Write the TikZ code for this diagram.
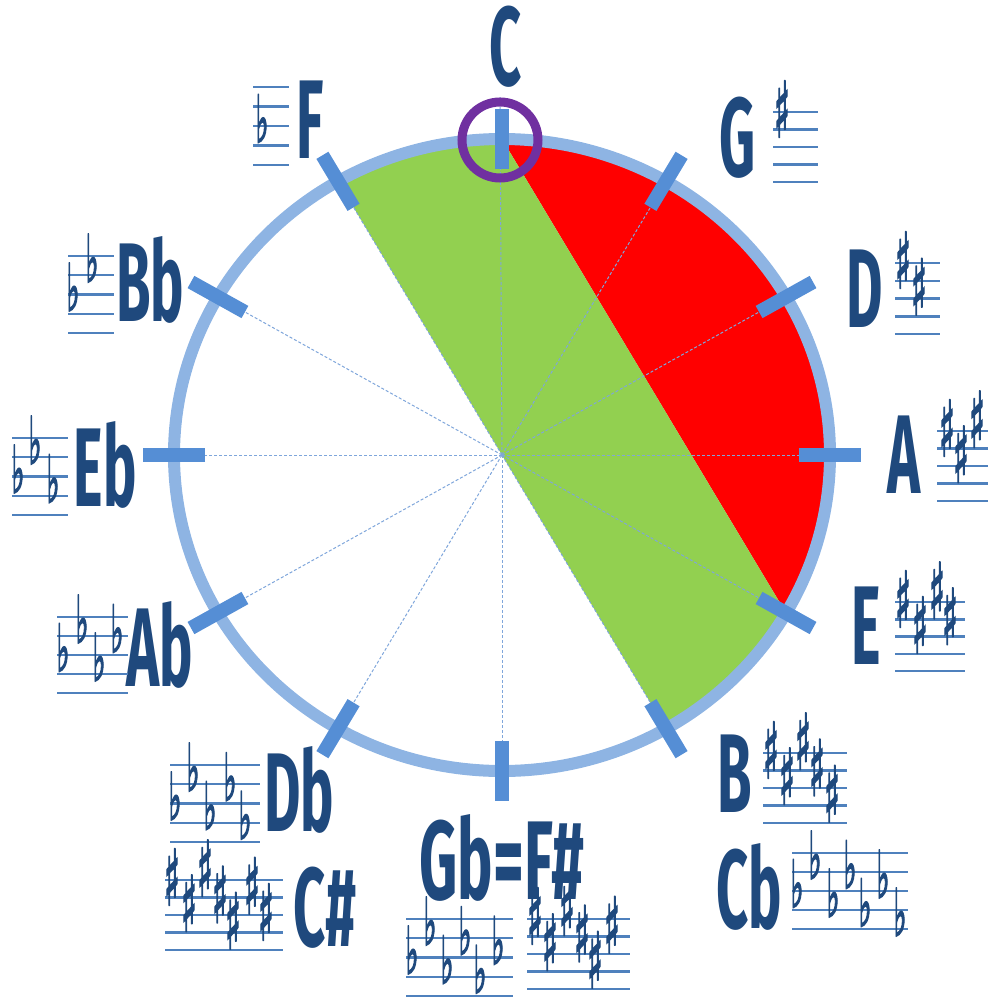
\documentclass[tikz,border=0pt]{standalone}
\usepackage{fontspec}
\usepackage{graphicx}
\setmainfont{Fira Sans}
\newfontfamily\accfont{DejaVu Sans}[FakeBold=3]
\usetikzlibrary{calc}
\definecolor{lettc}{HTML}{1F497D}
\definecolor{stafc}{HTML}{4F81BD}
\definecolor{ringc}{HTML}{8EB4E3}
\definecolor{tickc}{HTML}{558ED5}
\definecolor{spokec}{HTML}{7FA6DB}
\definecolor{greenc}{HTML}{92D050}
\definecolor{redc}{HTML}{FF0000}
\definecolor{purplec}{HTML}{7030A0}
\newcommand\flatglyph{{\accfont\resizebox*{6.5pt}{24pt}{♭}}}
\newcommand\sharpglyph{{\accfont\resizebox*{8pt}{28pt}{♯}}}
\newcommand\keystaff[4]{%
  \foreach \kk in {0,...,4} {\draw[stafflinestyle] (#1,{#3+\kk*#4}) -- (#2,{#3+\kk*#4});}}
\newcommand\keyflats[4]{%
  \foreach \xx/\pp [count=\ii] in {#4} {\node[flatsym] (#1-\ii) at (\xx,{#2+(\pp)*#3/2+17}) {\flatglyph};}}
\newcommand\keysharps[4]{%
  \foreach \xx/\pp [count=\ii] in {#4} {\node[sharpsym] (#1-\ii) at (\xx,{#2+(\pp)*#3/2-3}) {\sharpglyph};}}
\begin{document}
\begin{tikzpicture}[x=0.5pt,y=-0.5pt,
  ring/.style={draw=ringc,line width=6pt},
  tickbar/.style={draw=tickc,line width=7pt},
  spoke/.style={draw=spokec,line width=0.5pt,dash pattern=on 1.5pt off 1pt},
  keyname/.style={text=lettc,font=\fontsize{56}{56}\selectfont\bfseries,inner sep=0pt},
  stafflinestyle/.style={draw=stafc,line width=1.2pt},
  flatsym/.style={text=lettc,inner sep=0pt,anchor=south},
  sharpsym/.style={text=lettc,inner sep=0pt,anchor=center},
]
\useasboundingbox (0,0) rectangle (988,997);
\coordinate (O) at (502,455);
\foreach \n/\a in {C/0,G/30,D/60,A/90,E/120,B/150,Gb/180,Db/210,Ab/240,Eb/270,Bb/300,F/330} {
  \coordinate (p\n) at ({502+328*sin(\a)},{455-316*cos(\a)});
}
% sectors
\fill[redc] plot[domain=0:120,samples=90] ({502+328*sin(\x)},{455-316*cos(\x)}) -- cycle;
\fill[greenc] plot[domain=-30:0,samples=30] ({502+328*sin(\x)},{455-316*cos(\x)})
  -- plot[domain=120:150,samples=30] ({502+328*sin(\x)},{455-316*cos(\x)}) -- cycle;
% spokes
\foreach \n in {G,D,A,E,B,Gb,Db,Ab,Eb,Bb,F} {
  \draw[spoke] (O) -- ($(O)!1.09!(p\n)$);
}
\coordinate (ctop) at (500,97);
\draw[spoke] (O) -- (ctop);
% ring
\draw[ring] (O) ellipse [x radius=164pt, y radius=158pt];
% ticks
\foreach \n in {C,G,D,A,E,B,Gb,Db,Ab,Eb,Bb,F} {
  \draw[tickbar] ($(O)!0.905!(p\n)$) -- ($(O)!1.095!(p\n)$);
}
% purple marker
\coordinate (cmark) at (500,140);
\draw[draw=purplec,line width=4.5pt] (cmark) circle [radius=19pt];
% key names
\node[keyname] (lC) at (506,47) {\scalebox{0.5}[1]{C}};
\node[keyname] (lG) at (738,138) {\scalebox{0.5}[1]{G}};
\node[keyname] (lD) at (865,289) {\scalebox{0.5}[1]{D}};
\node[keyname] (lA) at (904,455) {\scalebox{0.5}[1]{A}};
\node[keyname] (lE) at (866,626) {\scalebox{0.5}[1]{E}};
\node[keyname] (lB) at (735,774) {\scalebox{0.5}[1]{B}};
\node[keyname] (lCb) at (749,887) {\scalebox{0.5}[1]{Cb}};
\node[keyname] (lGb) at (502,858) {\scalebox{0.53}[1]{Gb=F\#}};
\node[keyname] (lDb) at (299,790) {\scalebox{0.5}[1]{Db}};
\node[keyname] (lCs) at (325,908) {\scalebox{0.5}[1]{C\#}};
\node[keyname] (lAb) at (160,645) {\scalebox{0.5}[1]{Ab}};
\node[keyname] (lEb) at (105,465) {\scalebox{0.5}[1]{Eb}};
\node[keyname] (lBb) at (150,280) {\scalebox{0.5}[1]{Bb}};
\node[keyname] (lF) at (310,120) {\scalebox{0.5}[1]{F}};
% flat key signatures
\keystaff{253}{289}{87}{19.5}
\keyflats{fF}{87}{19.5}{262/4}
\keystaff{68}{114}{256}{19.25}
\keyflats{fBb}{256}{19.25}{73/4,92/1}
\keystaff{12}{68}{438}{19.25}
\keyflats{fEb}{438}{19.25}{18/4,35/1,53/5}
\keystaff{57}{128}{617}{19}
\keyflats{fAb}{617}{19}{63/4,82/1,99/5,117/2}
\keystaff{170}{260}{765}{19.25}
\keyflats{fDb}{765}{19.25}{175/4,193/1,210/5,230/2,245/6}
\keystaff{406}{513}{919}{19.25}
\keyflats{fGb}{919}{19.25}{412/4,430/1,447/5,465/2,480/6,498/3}
\keystaff{792}{908}{853}{19}
\keyflats{fCb}{853}{19}{797/4,815/1,833/5,850/2,865/6,883/3,900/7}
% sharp key signatures
\keystaff{773}{818}{112}{17.5}
\keysharps{sG}{112}{17.5}{782/0}
\keystaff{895}{940}{263}{17.8}
\keysharps{sD}{263}{17.8}{903/0,919/3}
\keystaff{937}{988}{431}{17.5}
\keysharps{sA}{431}{17.5}{947/0,961/3,977/-1}
\keystaff{895}{965}{602}{17.3}
\keysharps{sE}{602}{17.3}{903/0,920/3,937/-1,950/2}
\keystaff{763}{847}{753}{17.5}
\keysharps{sB}{753}{17.5}{771/0,787/3,803/-1,817/2,832/5}
\keystaff{527}{630}{919}{17.5}
\keysharps{sFs}{919}{17.5}{535/0,550/3,567/-1,582/2,595/5,612/1}
\keystaff{165}{283}{880}{17.5}
\keysharps{sCs}{880}{17.5}{172/0,189/3,205/-1,220/2,233/5,252/1,266/4}
\end{tikzpicture}
\end{document}
